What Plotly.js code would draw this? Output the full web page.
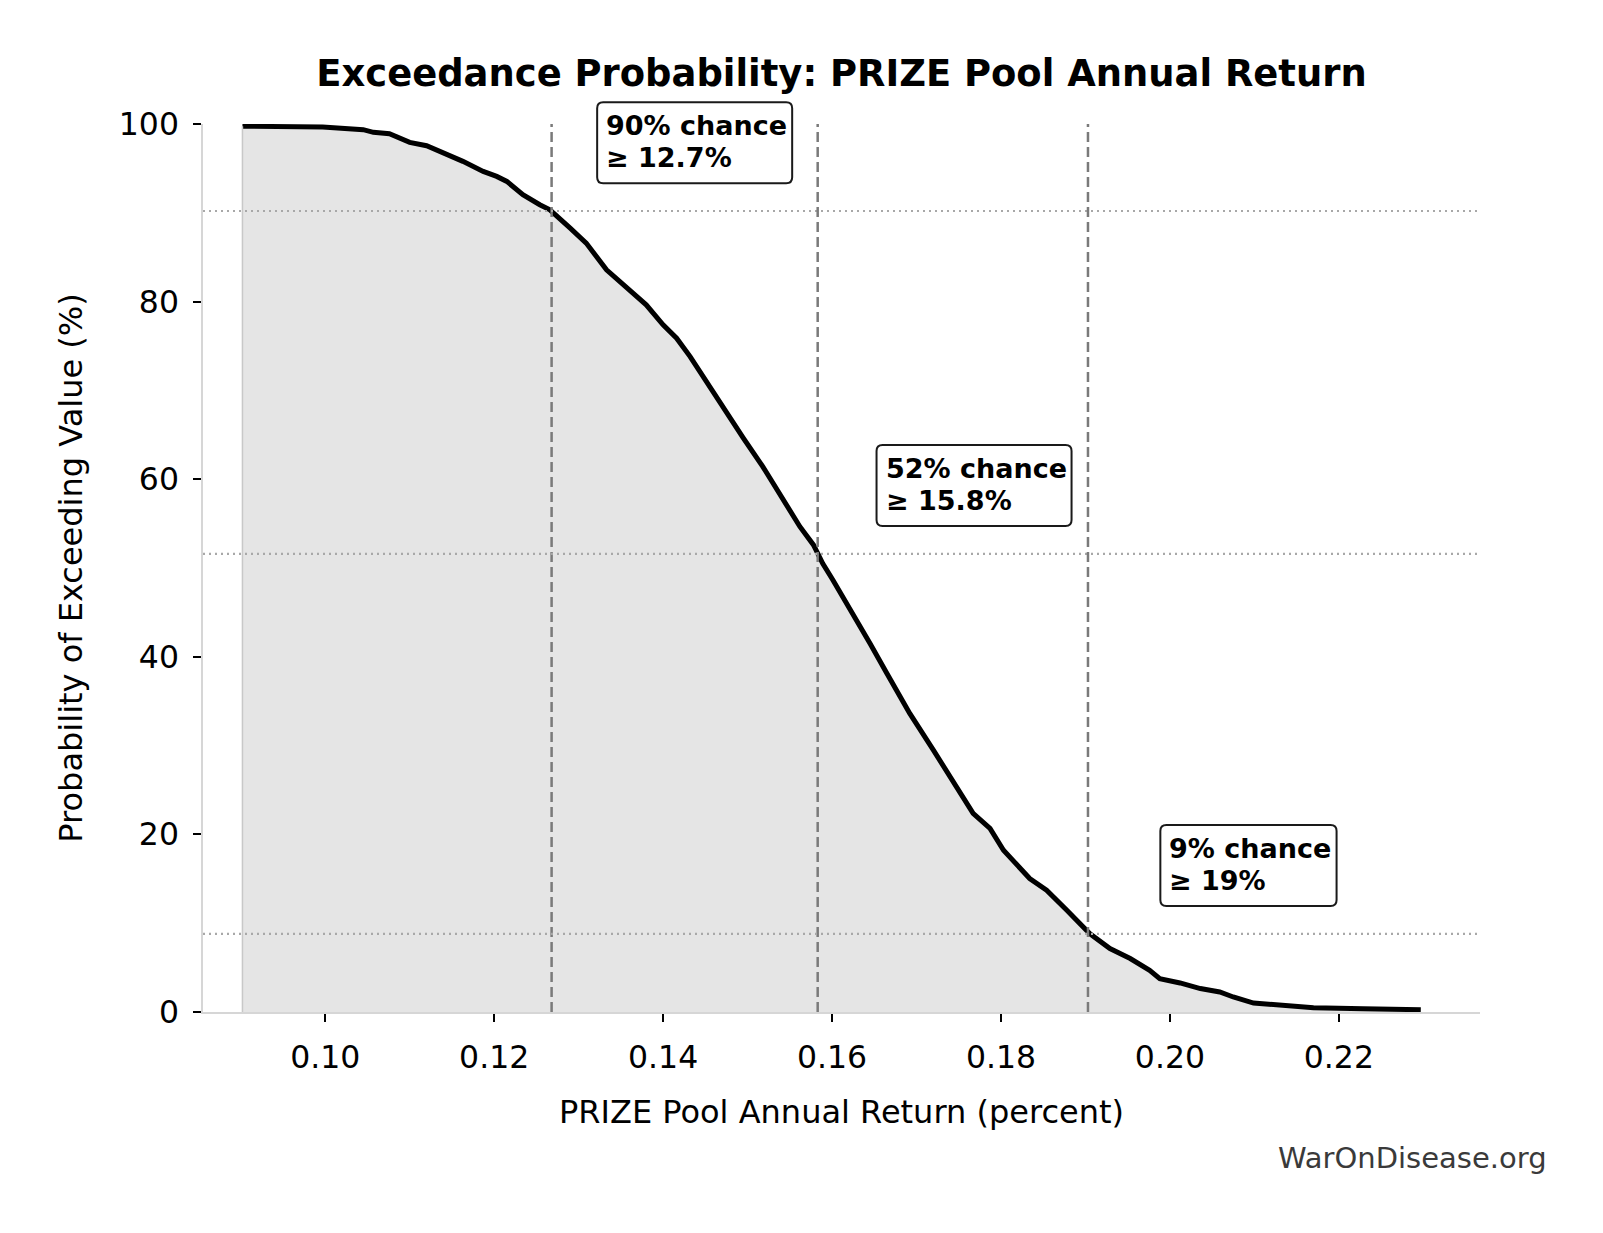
<!DOCTYPE html>
<html>
<head>
<meta charset="utf-8">
<script src="https://cdn.plot.ly/plotly-3.0.1.min.js"></script>
<style>
  html, body { margin: 0; padding: 0; background: #ffffff; }
  #chart { width: 1603px; height: 1233px; }
</style>
</head>
<body>
<div id="chart"></div>
<script>
// Exceedance curve: annual return (fraction) vs. probability of exceeding it (%)
const returnValues = [
  0.0902, 0.0950, 0.0997, 0.1045, 0.1057, 0.1076, 0.1100, 0.1120, 0.1144, 0.1163,
  0.1187, 0.1203, 0.1215, 0.1234, 0.1254, 0.1266, 0.1290, 0.1309, 0.1333, 0.1357,
  0.1380, 0.1400, 0.1416, 0.1432, 0.1455, 0.1475, 0.1495, 0.1518, 0.1542, 0.1562,
  0.1578, 0.1589, 0.1601, 0.1625, 0.1645, 0.1665, 0.1692, 0.1720, 0.1743, 0.1767,
  0.1787, 0.1803, 0.1834, 0.1854, 0.1878, 0.1893, 0.1905, 0.1929, 0.1953, 0.1976,
  0.1988, 0.2012, 0.2036, 0.2059, 0.2075, 0.2099, 0.2131, 0.2170, 0.2229, 0.2297
];
const exceedProb = [
  99.75, 99.72, 99.66, 99.36, 99.06, 98.90, 97.93, 97.55, 96.62, 95.79,
  94.66, 94.10, 93.53, 92.03, 90.91, 90.34, 88.28, 86.59, 83.58, 81.52,
  79.64, 77.38, 75.88, 73.81, 70.43, 67.43, 64.62, 61.42, 57.66, 54.65,
  52.60, 50.50, 48.65, 44.89, 41.51, 38.13, 33.63, 29.49, 26.11, 22.36,
  20.67, 18.22, 15.03, 13.71, 11.46, 9.96, 8.83, 7.14, 6.02, 4.70,
  3.76, 3.27, 2.64, 2.25, 1.69, 1.01, 0.75, 0.49, 0.38, 0.25
];

// Marked thresholds and their exceedance probabilities
const thresholdReturns = [0.1268, 0.1583, 0.1903];
const thresholdProbs = [90.2, 51.6, 8.8];

// Axis ranges and ticks
const xRange = [0.08553, 0.23671];
const yRange = [0, 100];
const xTickVals = [0.10, 0.12, 0.14, 0.16, 0.18, 0.20, 0.22];
const yTickVals = [0, 20, 40, 60, 80, 100];

const FONT = "DejaVu Sans, Verdana, sans-serif";
const LABEL_SIZE = 27;

function fmt3g(v) {
  return String(Number(v.toPrecision(3)));
}

// width of a bold label line, used to size its rounded box
const measureCtx = document.createElement("canvas").getContext("2d");
function boldWidth(s) {
  measureCtx.font = "bold " + LABEL_SIZE + "px 'DejaVu Sans'";
  return measureCtx.measureText(s).width;
}

// rounded rectangle path in pixel offsets (y positive = up)
function roundedRect(x0, x1, y0, y1, r) {
  return "M" + (x0 + r) + "," + y1 +
    " L" + (x1 - r) + "," + y1 +
    " Q" + x1 + "," + y1 + " " + x1 + "," + (y1 - r) +
    " L" + x1 + "," + (y0 + r) +
    " Q" + x1 + "," + y0 + " " + (x1 - r) + "," + y0 +
    " L" + (x0 + r) + "," + y0 +
    " Q" + x0 + "," + y0 + " " + x0 + "," + (y0 + r) +
    " L" + x0 + "," + (y1 - r) +
    " Q" + x0 + "," + y1 + " " + (x0 + r) + "," + y1 + " Z";
}

const traces = [
  {
    x: returnValues,
    y: exceedProb,
    type: "scatter",
    mode: "lines",
    fill: "tozeroy",
    fillcolor: "#e5e5e5",
    line: { color: "#000000", width: 5 },
    hoverinfo: "x+y",
    showlegend: false
  },
  {
    // left edge of the shaded area
    x: [returnValues[0], returnValues[0]],
    y: [0, exceedProb[0]],
    type: "scatter",
    mode: "lines",
    line: { color: "#c8c8c8", width: 1.5 },
    hoverinfo: "skip",
    showlegend: false
  }
];

const shapes = [];
const annotations = [];

thresholdReturns.forEach((r, i) => {
  const p = thresholdProbs[i];
  shapes.push({
    type: "line", xref: "x", yref: "paper",
    x0: r, x1: r, y0: 0, y1: 1,
    line: { color: "#7a7a7a", width: 2.5, dash: "10px,5px" },
    layer: "above"
  });
  shapes.push({
    type: "line", xref: "paper", yref: "y",
    x0: 0, x1: 1, y0: p, y1: p,
    line: { color: "#a8a8a8", width: 2.2, dash: "2px,4px" },
    layer: "above"
  });

  const line1 = Math.round(p) + "% chance";
  const line2 = "≥ " + fmt3g(r * 100) + "%";
  const textW = Math.max(boldWidth(line1), boldWidth(line2));
  const lx = r * 1.05;
  const ly = p + 7.7;

  // the label box may rise above the plot area, so anchor it in paper units
  shapes.push({
    type: "path",
    xref: "x", yref: "paper",
    xsizemode: "pixel", ysizemode: "pixel",
    xanchor: lx, yanchor: (ly - yRange[0]) / (yRange[1] - yRange[0]),
    path: roundedRect(-8, textW + 6, -40.5, 40.5, 6),
    fillcolor: "#ffffff",
    line: { color: "#1a1a1a", width: 2 },
    layer: "above"
  });

  [line1, line2].forEach((t, k) => {
    annotations.push({
      xref: "x", yref: "y",
      x: lx, y: ly,
      xanchor: "left", yanchor: "middle",
      xshift: -1,
      yshift: k === 0 ? 17 : -15,
      align: "left",
      text: t,
      showarrow: false,
      font: { family: FONT, size: LABEL_SIZE, color: "#000000", weight: "bold" }
    });
  });
});

annotations.push({
  xref: "paper", yref: "paper",
  x: 1.054, y: -0.1644,
  xanchor: "right", yanchor: "middle",
  text: "WarOnDisease.org",
  showarrow: false,
  font: { family: FONT, size: 29, color: "#3a3a3a" }
});

const layout = {
  width: 1603,
  height: 1233,
  paper_bgcolor: "#ffffff",
  plot_bgcolor: "#ffffff",
  margin: { l: 203, r: 123, t: 124, b: 221, pad: 0 },
  font: { family: FONT, color: "#000000", size: 31 },
  title: {
    text: "<b>Exceedance Probability: PRIZE Pool Annual Return</b>",
    font: { family: FONT, size: 36.9, color: "#000000" },
    x: 0.5, xref: "paper", xanchor: "center",
    y: 0.941, yref: "container", yanchor: "middle"
  },
  xaxis: {
    range: xRange,
    tickvals: xTickVals,
    tickformat: ".2f",
    ticks: "outside",
    ticklen: 8,
    tickwidth: 2,
    tickcolor: "#000000",
    ticklabelstandoff: 8,
    showline: true,
    linecolor: "#d6d6d6",
    linewidth: 1.5,
    showgrid: false,
    zeroline: false,
    tickfont: { family: FONT, size: 31.5, color: "#000000" },
    title: {
      text: "PRIZE Pool Annual Return (percent)",
      font: { family: FONT, size: 32, color: "#000000" },
      standoff: 27
    }
  },
  yaxis: {
    range: yRange,
    tickvals: yTickVals,
    ticks: "outside",
    ticklen: 8,
    tickwidth: 2,
    tickcolor: "#000000",
    ticklabelstandoff: 8,
    showline: true,
    linecolor: "#d6d6d6",
    linewidth: 1.5,
    showgrid: false,
    zeroline: false,
    tickfont: { family: FONT, size: 31.5, color: "#000000" },
    title: {
      text: "Probability of Exceeding Value (%)",
      font: { family: FONT, size: 32, color: "#000000" },
      standoff: 27
    }
  },
  shapes: shapes,
  annotations: annotations,
  showlegend: false
};

Plotly.newPlot("chart", traces, layout, { displayModeBar: false, responsive: false });
</script>
</body>
</html>
